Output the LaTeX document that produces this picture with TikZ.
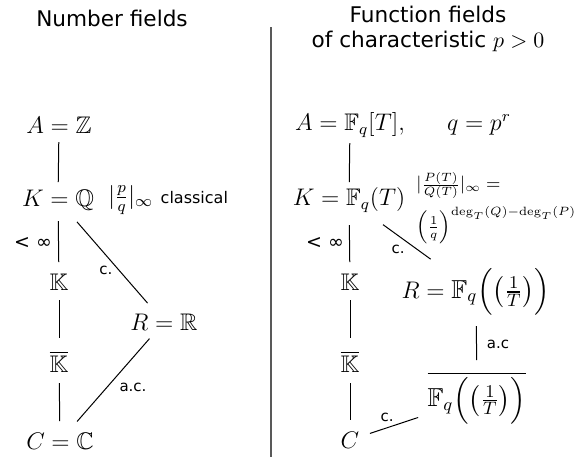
\documentclass[tikz,border=0pt]{standalone}
\usepackage{amsmath,amssymb}
\usepackage[no-math]{fontspec}
\setmainfont{DejaVu Sans}
\usetikzlibrary{positioning,calc}
\tikzset{
  obj/.style={font=\fontsize{12}{14}\selectfont,inner sep=1pt},
  big/.style={font=\fontsize{13}{15}\selectfont,inner sep=1pt},
  head/.style={font=\fontsize{10.8}{12.5}\selectfont,align=center,inner sep=0pt},
  lbl/.style={font=\fontsize{7.5}{9}\selectfont,inner sep=1pt},
  fin/.style={font=\fontsize{9.5}{11}\selectfont,inner sep=1pt},
  note/.style={font=\fontsize{9.2}{11}\selectfont,inner sep=0pt,align=left},
  link/.style 2 args={draw=black,line width=0.5pt,shorten <=#1,shorten >=#2},
}
\newcommand{\laurent}{\mathbb{F}_q\Bigl(\bigl(\frac{1}{T}\bigr)\Bigr)}

\begin{document}
\begin{tikzpicture}[x=0.5pt,y=-0.5pt]
\useasboundingbox (0,0) rectangle (581,457);
% headings and separator
\node[head] (tnum) at (112,18) {Number fields};
\node[head] (tfun) at (428,29) {Function fields\\of characteristic $p>0$};
\coordinate (septop) at (271,27);
\coordinate (sepbot) at (271,457);
\draw[line width=0.7pt,black!65] (septop)--(sepbot);
% number fields
\node[obj] (lA) at (59,125) {$A=\mathbb{Z}$};
\node[obj] (lK) at (58,200) {$K=\mathbb{Q}$};
\node[obj,anchor=west] (labs) at (106,200) {$|\frac{p}{q}|_\infty$ \fontsize{8}{9}\selectfont classical};
\node[obj] (lKK) at (59,282) {$\mathbb{K}$};
\node[obj] (lKbar) at (59,362) {$\overline{\mathbb{K}}$};
\node[obj] (lC) at (60,441) {$C=\mathbb{C}$};
\node[obj] (lR) at (164,322) {$R=\mathbb{R}$};
\draw[link={8.5pt}{9pt}] (lA.center)--(lK.center);
\draw[link={10.5pt}{10pt}] (lK.center)--(lKK.center);
\draw[link={9pt}{12pt}] (lKK.center)--(lKbar.center);
\draw[link={10.5pt}{10pt}] (lKbar.center)--(lC.center);
\draw[link={14.5pt}{12.5pt}] (lK.center)--(lR.center);
\draw[link={11pt}{13pt}] (lR.center)--(lC.center);
\node[fin] (lfin) at (33,243) {< ∞};
\node[lbl] (lc) at (106,270) {c.};
\node[lbl] (lac) at (133,387) {a.c.};
% function fields
\node[obj] (fA) at (350,125) {$A=\mathbb{F}_q[T],$};
\node[obj] (fq) at (479,125) {$q=p^r$};
\node[obj] (fK) at (349,200) {$K=\mathbb{F}_q(T)$};
\node[note,anchor=west] (fabs) at (416,208) {$|\frac{P(T)}{Q(T)}|_\infty=$\\[3pt]$\left(\frac{1}{q}\right)^{\deg_T(Q)-\deg_T(P)}$};
\node[obj] (fKK) at (350,282) {$\mathbb{K}$};
\node[obj] (fKbar) at (350,362) {$\overline{\mathbb{K}}$};
\node[obj] (fC) at (350,440) {$C$};
\node[big] (fR) at (476,292) {$R=\laurent$};
\node[big] (fRbar) at (477,398) {$\overline{\laurent}$};
\draw[link={9pt}{9pt}] (fA.center)--(fK.center);
\draw[link={12.5pt}{10pt}] (fK.center)--(fKK.center);
\draw[link={9pt}{12pt}] (fKK.center)--(fKbar.center);
\draw[link={10.5pt}{10pt}] (fKbar.center)--(fC.center);
\draw[link={21pt}{28pt}] (fK.center)--(fR.center);
\draw[link={17pt}{19pt}] (fR.center)--(fRbar.center);
\draw[link={10.5pt}{31pt}] (fC.center)--(fRbar.center);
\node[fin] (ffin) at (325,243) {< ∞};
\node[lbl] (fc) at (398,249) {c.};
\node[lbl] (fac) at (498,344) {a.c};
\node[lbl] (fcc) at (387,417) {c.};
\end{tikzpicture}
\end{document}
